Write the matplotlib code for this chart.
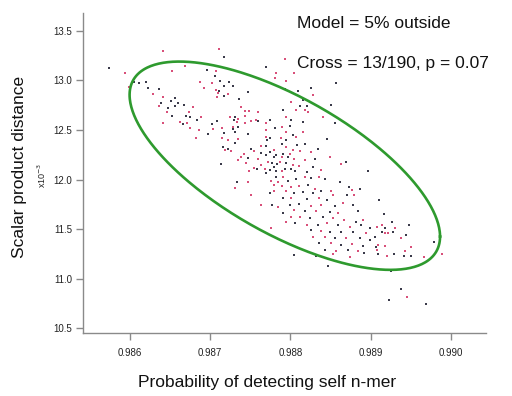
import numpy as np
import matplotlib
matplotlib.use("Agg")
import matplotlib.pyplot as plt

plt.rcParams['font.family'] = ['Liberation Sans', 'DejaVu Sans']

# ---- data ----
black_x = [0.98575, 0.98606, 0.98612, 0.98620, 0.98623, 0.98637, 0.98657, 0.98651, 0.98639, 0.98660,
           0.98648, 0.98656, 0.98653, 0.98667, 0.98717, 0.98769, 0.98696, 0.98706, 0.98713, 0.98724,
           0.98718, 0.98728, 0.98711, 0.98747, 0.98718, 0.98736, 0.98668, 0.98731, 0.98670, 0.98675,
           0.98684, 0.98730, 0.98760, 0.98775, 0.98709, 0.98702, 0.98735, 0.98728, 0.98781, 0.98731,
           0.98747, 0.98718, 0.98697, 0.98731, 0.98771, 0.98775, 0.98770, 0.98716, 0.98722, 0.98751,
           0.98774, 0.98763, 0.98770, 0.98747, 0.98779, 0.98782, 0.98777, 0.98783, 0.98714, 0.98759,
           0.98779, 0.98775, 0.98782, 0.98769, 0.98857, 0.98826, 0.98809, 0.98812, 0.98820, 0.98851,
           0.98791, 0.98801, 0.98816, 0.98855, 0.98799, 0.98803, 0.98845, 0.98794, 0.98789, 0.98808,
           0.98818, 0.98834, 0.98791, 0.98797, 0.98830, 0.98794, 0.98869, 0.98793, 0.98801, 0.98828,
           0.98821, 0.98806, 0.98896, 0.98733, 0.98782, 0.98774, 0.98777, 0.98785, 0.98797, 0.98807,
           0.98826, 0.98843, 0.98862, 0.98873, 0.98886, 0.98822, 0.98838, 0.98805, 0.98816, 0.98828,
           0.98870, 0.98791, 0.98820, 0.98845, 0.98799, 0.98811, 0.98855, 0.98878, 0.98818, 0.98849,
           0.98791, 0.98884, 0.98824, 0.98840, 0.98882, 0.98806, 0.98834, 0.98859, 0.98888, 0.98899,
           0.98826, 0.98849, 0.98863, 0.98878, 0.98855, 0.98886, 0.98899, 0.98836, 0.98863, 0.98890,
           0.98843, 0.98872, 0.98805, 0.98832, 0.98892, 0.98847, 0.98910, 0.98916, 0.98926, 0.98948,
           0.98917, 0.98905, 0.98914, 0.98927, 0.98944, 0.98906, 0.98978, 0.98909, 0.98929, 0.98941,
           0.98950, 0.98925, 0.98937, 0.98922, 0.98968, 0.98793, 0.98816, 0.98841]
black_y = [13.13, 12.98, 12.97, 12.98, 12.92, 12.91, 12.82, 12.79, 12.77, 12.77,
           12.72, 12.74, 12.64, 12.56, 13.24, 13.14, 13.10, 13.04, 12.99, 12.98,
           12.94, 12.94, 12.89, 12.88, 12.84, 12.81, 12.75, 12.63, 12.64, 12.63,
           12.60, 12.60, 12.59, 12.60, 12.59, 12.56, 12.53, 12.51, 12.52, 12.48,
           12.46, 12.47, 12.46, 12.37, 12.40, 12.42, 12.34, 12.33, 12.31, 12.31,
           12.28, 12.27, 12.25, 12.22, 12.23, 12.25, 12.17, 12.16, 12.16, 12.11,
           12.13, 12.10, 12.09, 12.07, 12.97, 12.92, 12.89, 12.74, 12.74, 12.75,
           12.70, 12.60, 12.58, 12.57, 12.54, 12.45, 12.41, 12.40, 12.36, 12.35,
           12.36, 12.31, 12.26, 12.23, 12.21, 12.17, 12.18, 12.11, 12.11, 12.13,
           12.08, 12.09, 12.09, 11.98, 12.03, 11.86, 11.74, 11.40, 11.99, 12.01,
           12.02, 12.01, 11.98, 11.93, 11.91, 11.95, 11.89, 11.86, 11.87, 11.86,
           11.84, 11.81, 11.80, 11.79, 11.74, 11.75, 11.73, 11.74, 11.68, 11.67,
           11.66, 11.68, 11.61, 11.62, 11.57, 11.56, 11.54, 11.54, 11.54, 11.51,
           11.49, 11.47, 11.47, 11.47, 11.41, 11.41, 11.39, 11.36, 11.34, 11.33,
           11.29, 11.29, 11.24, 11.23, 11.26, 11.13, 11.79, 11.65, 11.57, 11.54,
           11.51, 11.42, 11.47, 11.47, 11.44, 11.32, 11.37, 11.25, 11.25, 11.23,
           11.23, 11.08, 10.90, 10.79, 10.75, 12.91, 12.80, 12.63]

pink_x = [0.98641, 0.98653, 0.98599, 0.98629, 0.98641, 0.98636, 0.98646, 0.98641, 0.98663, 0.98594,
          0.98669, 0.98711, 0.98707, 0.98782, 0.98781, 0.98688, 0.98703, 0.98693, 0.98707, 0.98710,
          0.98722, 0.98709, 0.98679, 0.98739, 0.98743, 0.98748, 0.98674, 0.98725, 0.98744, 0.98760,
          0.98689, 0.98735, 0.98751, 0.98757, 0.98671, 0.98733, 0.98744, 0.98769, 0.98729, 0.98675,
          0.98704, 0.98686, 0.98715, 0.98769, 0.98769, 0.98683, 0.98715, 0.98735, 0.98722, 0.98763,
          0.98719, 0.98726, 0.98755, 0.98780, 0.98742, 0.98739, 0.98760, 0.98735, 0.98772, 0.98764,
          0.98745, 0.98755, 0.98768, 0.98748, 0.98793, 0.98805, 0.98795, 0.98828, 0.98801, 0.98818,
          0.98822, 0.98807, 0.98840, 0.98794, 0.98789, 0.98794, 0.98816, 0.98807, 0.98788, 0.98803,
          0.98795, 0.98812, 0.98826, 0.98799, 0.98789, 0.98805, 0.98849, 0.98818, 0.98787, 0.98803,
          0.98811, 0.98863, 0.98838, 0.98789, 0.98747, 0.98731, 0.98751, 0.98776, 0.98780, 0.98784,
          0.98779, 0.98764, 0.98785, 0.98776, 0.98791, 0.98818, 0.98836, 0.98876, 0.98789, 0.98801,
          0.98811, 0.98830, 0.98851, 0.98795, 0.98853, 0.98879, 0.98801, 0.98835, 0.98865, 0.98826,
          0.98838, 0.98805, 0.98832, 0.98859, 0.98801, 0.98812, 0.98853, 0.98867, 0.98890, 0.98795,
          0.98820, 0.98845, 0.98874, 0.98838, 0.98894, 0.98828, 0.98843, 0.98869, 0.98851, 0.98876,
          0.98857, 0.98884, 0.98853, 0.98874, 0.98914, 0.98908, 0.98930, 0.98917, 0.98921, 0.98937,
          0.98909, 0.98917, 0.98950, 0.98908, 0.98943, 0.98920, 0.98966, 0.98988, 0.98945]
pink_y = [13.30, 13.09, 12.93, 12.86, 12.83, 12.74, 12.68, 12.57, 12.58, 13.07,
          13.15, 13.32, 13.09, 13.07, 13.02, 12.98, 12.97, 12.92, 12.90, 12.87,
          12.86, 12.83, 12.73, 12.73, 12.69, 12.69, 12.68, 12.63, 12.64, 12.68,
          12.63, 12.61, 12.59, 12.60, 12.57, 12.58, 12.57, 12.57, 12.53, 12.52,
          12.51, 12.50, 12.52, 12.50, 12.43, 12.42, 12.42, 12.41, 12.40, 12.34,
          12.30, 12.29, 12.29, 12.30, 12.26, 12.23, 12.21, 12.20, 12.18, 12.15,
          12.17, 12.12, 12.11, 12.09, 13.22, 13.07, 12.99, 12.85, 12.78, 12.70,
          12.68, 12.70, 12.63, 12.63, 12.53, 12.48, 12.48, 12.43, 12.42, 12.30,
          12.33, 12.29, 12.28, 12.26, 12.23, 12.21, 12.23, 12.20, 12.18, 12.15,
          12.14, 12.16, 12.10, 12.09, 11.98, 11.92, 11.84, 11.99, 11.95, 11.98,
          11.88, 11.74, 11.72, 11.51, 12.03, 12.03, 12.03, 11.90, 11.94, 11.93,
          11.94, 11.91, 11.89, 11.88, 11.84, 11.84, 11.81, 11.81, 11.76, 11.73,
          11.74, 11.69, 11.68, 11.66, 11.62, 11.62, 11.61, 11.59, 11.59, 11.57,
          11.54, 11.56, 11.52, 11.48, 11.46, 11.42, 11.42, 11.41, 11.36, 11.35,
          11.28, 11.28, 11.25, 11.22, 11.54, 11.52, 11.51, 11.46, 11.46, 11.41,
          11.34, 11.33, 11.32, 11.29, 11.28, 11.23, 11.22, 11.25, 10.82]

# ellipse (model 95% region) parameters
ell_cx, ell_cy = 0.98793, 12.14
ell_ax, ell_ay = 0.00193, 1.05
ell_phase = np.arccos(-0.68)

x_ticks = [0.986, 0.987, 0.988, 0.989, 0.990]
y_ticks = [10.5, 11.0, 11.5, 12.0, 12.5, 13.0, 13.5]

# ---- figure ----
fig = plt.figure(figsize=(5.12, 3.96), dpi=100)
ax = fig.add_axes([0.162, 0.159, 0.787, 0.807])

ax.scatter(black_x, black_y, s=2.2, marker='s', color='#3a3a4a', linewidths=0, zorder=2)
ax.scatter(pink_x, pink_y, s=2.2, marker='s', color='#d8507a', linewidths=0, zorder=2)

t = np.linspace(0, 2 * np.pi, 400)
ex = ell_cx + ell_ax * np.cos(t)
ey = ell_cy + ell_ay * np.cos(t - ell_phase)
ax.plot(ex, ey, color='#2e9a2e', lw=1.9, zorder=3)

ax.set_xlim(0.98542, 0.99043)
ax.set_ylim(10.453, 13.675)
ax.set_xticks(x_ticks)
ax.set_xticklabels([f"{v:.3f}" for v in x_ticks])
ax.set_yticks(y_ticks)
ax.set_yticklabels([f"{v:.1f}" for v in y_ticks])

for s in ['top', 'right']:
    ax.spines[s].set_visible(False)
for s in ['left', 'bottom']:
    ax.spines[s].set_color('#8a8a8a')
    ax.spines[s].set_linewidth(1.0)
ax.tick_params(axis='both', colors='#8a8a8a', labelcolor='#222222', labelsize=7, length=5, width=1)
ax.tick_params(axis='y', pad=3)
ax.tick_params(axis='x', pad=6)

fig.text(267 / 512, 1 - 382 / 396, "Probability of detecting self n-mer", ha='center', va='center',
         fontsize=12.5, color='#111111')
fig.text(20 / 512, 1 - 167 / 396, "Scalar product distance", ha='center', va='center',
         rotation=90, fontsize=12.5, color='#111111')
fig.text(42 / 512, 1 - 175 / 396, "x10$^{-3}$", ha='center', va='center', rotation=90,
         fontsize=6.5, color='#222222')

fig.text(297 / 512, 1 - 28 / 396, "Model = 5% outside", ha='left', va='baseline',
         fontsize=12.5, color='#111111')
fig.text(297 / 512, 1 - 68 / 396, "Cross = 13/190, p = 0.07", ha='left', va='baseline',
         fontsize=12.5, color='#111111')

fig.savefig("out.png", dpi=100)
